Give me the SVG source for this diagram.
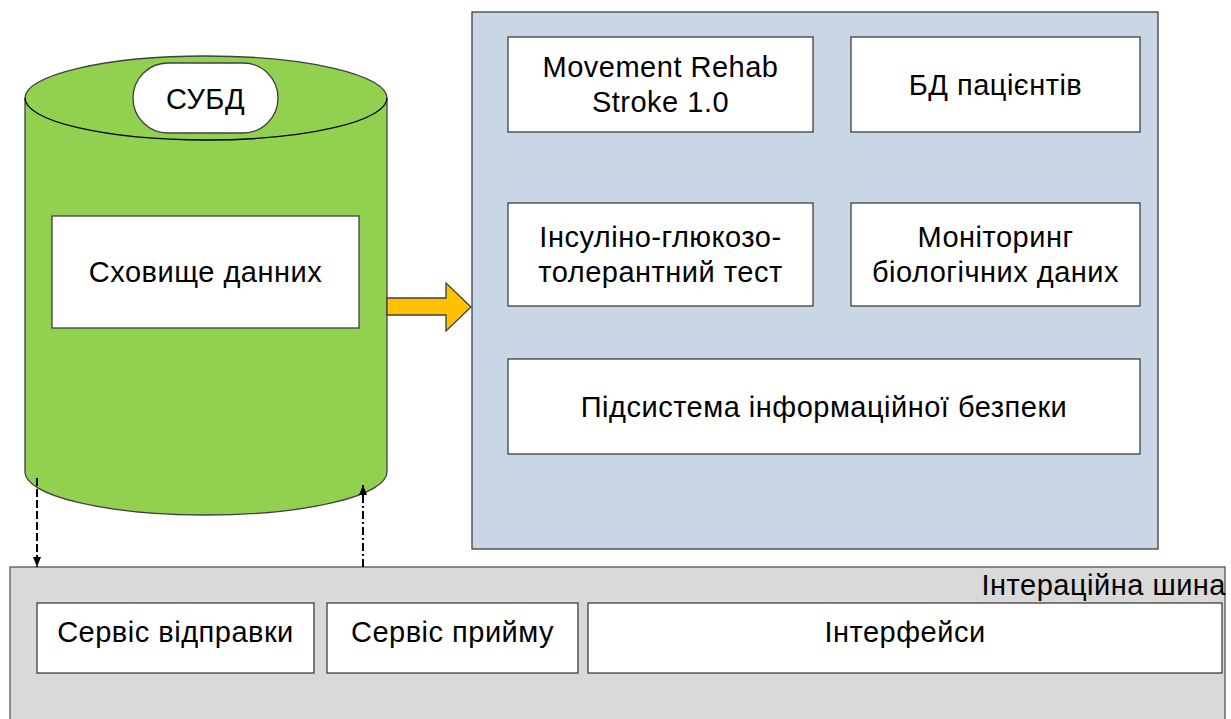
<svg xmlns="http://www.w3.org/2000/svg" width="1231" height="719" viewBox="0 0 1231 719">
<defs>
<style>
text{font-family:"Liberation Sans",Arial,sans-serif;font-size:29px;letter-spacing:0.5px;fill:#000;text-anchor:middle}
.box{fill:#fff;stroke:#404040;stroke-width:1.3}
.conn{stroke:#000;stroke-width:2;fill:none}
</style>
<marker id="ah" viewBox="0 0 10 10" refX="10" refY="5" markerWidth="10" markerHeight="8" orient="auto" markerUnits="userSpaceOnUse" preserveAspectRatio="none">
<path d="M0,0 L10,5 L0,10 z" fill="#000"/>
</marker>
</defs>
<rect width="1231" height="719" fill="#fff"/>
<g id="panel">
<rect x="472" y="12" width="686" height="537" fill="#C9D6E6" stroke="#404040" stroke-width="1.3"/>
</g>
<g id="bus">
<rect x="10" y="567" width="1215" height="160" fill="#D9D9D9" stroke="#555" stroke-width="1.3"/>
<text x="1226" y="595" style="text-anchor:end">Інтераційна шина</text>
</g>
<g id="dbms">
<path d="M25,98 A181,42 0 0 1 387,98 L387,472 A181,43 0 0 1 25,472 Z" fill="#92D050" stroke="#404040" stroke-width="1.3"/>
<path d="M25,98 A181,42 0 0 0 387,98" fill="none" stroke="#000" stroke-width="1.3"/>
<rect x="133" y="63" width="145" height="70" rx="35" ry="35" class="box" stroke="#000"/>
<text x="205.5" y="109">СУБД</text>
</g>
<g id="storage">
<rect x="52" y="216" width="307" height="112" class="box"/>
<text x="205.5" y="282">Сховище данних</text>
</g>
<g id="movement">
<rect x="508" y="37" width="305" height="95" class="box"/>
<text x="660.5" y="77">Movement Rehab</text>
<text x="660.5" y="112">Stroke 1.0</text>
</g>
<g id="patients">
<rect x="851" y="37" width="289" height="95" class="box"/>
<text x="995.5" y="95">БД пацієнтів</text>
</g>
<g id="insulin">
<rect x="508" y="203" width="305" height="103" class="box"/>
<text x="660.5" y="247">Інсуліно-глюкозо-</text>
<text x="660.5" y="282">толерантний тест</text>
</g>
<g id="monitoring">
<rect x="851" y="203" width="289" height="103" class="box"/>
<text x="995.5" y="247">Моніторинг</text>
<text x="995.5" y="282">біологічних даних</text>
</g>
<g id="security">
<rect x="508" y="359" width="632" height="95" class="box"/>
<text x="824" y="417">Підсистема інформаційної безпеки</text>
</g>
<g id="send">
<rect x="37" y="603" width="277" height="70" class="box"/>
<text x="175.5" y="642">Сервіс відправки</text>
</g>
<g id="receive">
<rect x="327" y="603" width="251" height="70" class="box"/>
<text x="452.5" y="642">Сервіс прийму</text>
</g>
<g id="interfaces">
<rect x="588" y="603" width="634" height="70" class="box"/>
<text x="905" y="642">Інтерфейси</text>
</g>
<g id="connectors">
<path d="M387,298 L446,298 L446,283 L471,307 L446,331 L446,315 L387,315 Z" fill="#FFC000" stroke="#404040" stroke-width="1.3"/>
<line x1="37" y1="478" x2="37" y2="567" class="conn" stroke-dasharray="8,3" marker-end="url(#ah)"/>
<line x1="363" y1="567" x2="363" y2="485" class="conn" stroke-dasharray="8,3,2,3" marker-end="url(#ah)"/>
</g>
</svg>
